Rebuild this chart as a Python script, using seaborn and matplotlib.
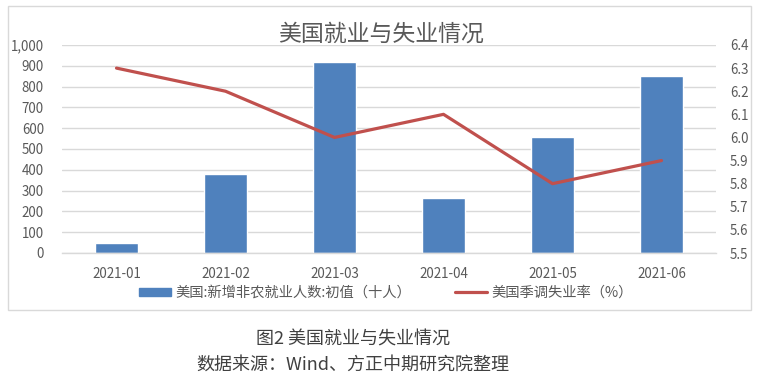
import matplotlib
matplotlib.use("Agg")
import matplotlib.pyplot as plt
import seaborn as sns
import pandas as pd
import numpy as np
from matplotlib.patches import Rectangle
from matplotlib.lines import Line2D
from matplotlib.ticker import FuncFormatter, FixedLocator

months = ["2021-01", "2021-02", "2021-03", "2021-04", "2021-05", "2021-06"]
payrolls = [49, 379, 916, 266, 559, 850]
unemployment = [6.3, 6.2, 6.0, 6.1, 5.8, 5.9]
left_ticks = list(range(0, 1001, 100))
right_ticks = [5.5, 5.6, 5.7, 5.8, 5.9, 6.0, 6.1, 6.2, 6.3, 6.4]

bar_label = "美国:新增非农就业人数:初值（十人）"
line_label = "美国季调失业率（%）"
title = "美国就业与失业情况"
caption1 = "图2 美国就业与失业情况"
caption2 = "数据来源：Wind、方正中期研究院整理"

sns.set_theme(style="white")
plt.rcParams['font.family'] = ['Noto Sans CJK SC', 'DejaVu Sans']

df = pd.DataFrame({"month": months, "payrolls": payrolls, "rate": unemployment})

W, H = 762, 380
fig = plt.figure(figsize=(W / 100, H / 100), dpi=100)
fig.patch.set_facecolor("white")

# chart border
fig.add_artist(Rectangle((8 / W, 1 - 310 / H), (751 - 8) / W, (310 - 6) / H,
                         transform=fig.transFigure, fill=False,
                         edgecolor="#d9d9d9", linewidth=1.0))

ax = fig.add_axes([62 / W, 1 - 253 / H, (716 - 62) / W, (253 - 45) / H])
sns.barplot(data=df, x="month", y="payrolls", color="#4f81bd", width=0.4,
            saturation=1, ax=ax)
ax.set_xlim(-0.5, 5.5)
ax.set_ylim(0, 1000)
ax.yaxis.set_major_locator(FixedLocator(left_ticks))
ax.yaxis.set_major_formatter(FuncFormatter(lambda v, p: f"{int(v):,}"))
ax.grid(axis="y", color="#d9d9d9", linewidth=1.0)
ax.set_axisbelow(True)
ax.set_xlabel("")
ax.set_ylabel("")
for s in ["top", "left", "right"]:
    ax.spines[s].set_visible(False)
ax.spines["bottom"].set_color("#d9d9d9")
ax.spines["bottom"].set_linewidth(1.0)
ax.tick_params(axis="y", length=0, labelsize=9.6, labelcolor="#595959", pad=13)
ax.tick_params(axis="x", which="major", length=0, labelsize=9.6,
               labelcolor="#595959", pad=10)
ax.set_xticks(np.arange(-0.5, 6.0, 1.0), minor=True)
ax.tick_params(axis="x", which="minor", length=5, color="#d9d9d9", width=1.0)

ax2 = ax.twinx()
sns.lineplot(data=df, x="month", y="rate", color="#c0504d", linewidth=2.3,
             sort=False, ax=ax2)
ax2.set_ylim(5.5, 6.4)
ax2.yaxis.set_major_locator(FixedLocator(right_ticks))
ax2.yaxis.set_major_formatter(FuncFormatter(lambda v, p: f"{v:.1f}"))
ax2.set_ylabel("")
ax2.set_xlabel("")
for s in ["top", "left", "right", "bottom"]:
    ax2.spines[s].set_visible(False)
ax2.tick_params(axis="y", length=0, labelsize=9.6, labelcolor="#595959", pad=10)
ax2.grid(False)
ax.set_xlim(-0.5, 5.5)

fig.text(381 / W, 1 - 34 / H, title, ha="center", va="center",
         fontsize=16.5, color="#595959")

handles = [Rectangle((0, 0), 1, 1, color="#4f81bd"),
           Line2D([0], [0], color="#c0504d", linewidth=2.3)]
fig.legend(handles, [bar_label, line_label], loc="center",
           bbox_to_anchor=(386 / W, 1 - 293 / H), ncol=2, frameon=False,
           fontsize=10.3, labelcolor="#595959", handlelength=2.24,
           handleheight=0.56, handletextpad=0.28, columnspacing=3.1,
           borderpad=0.2)

fig.text(353 / W, 1 - 340 / H, caption1, ha="center", va="center",
         fontsize=13, color="#404040")
fig.text(353 / W, 1 - 365 / H, caption2, ha="center", va="center",
         fontsize=13, color="#404040")

fig.savefig("out.png", dpi=100, facecolor="white")
